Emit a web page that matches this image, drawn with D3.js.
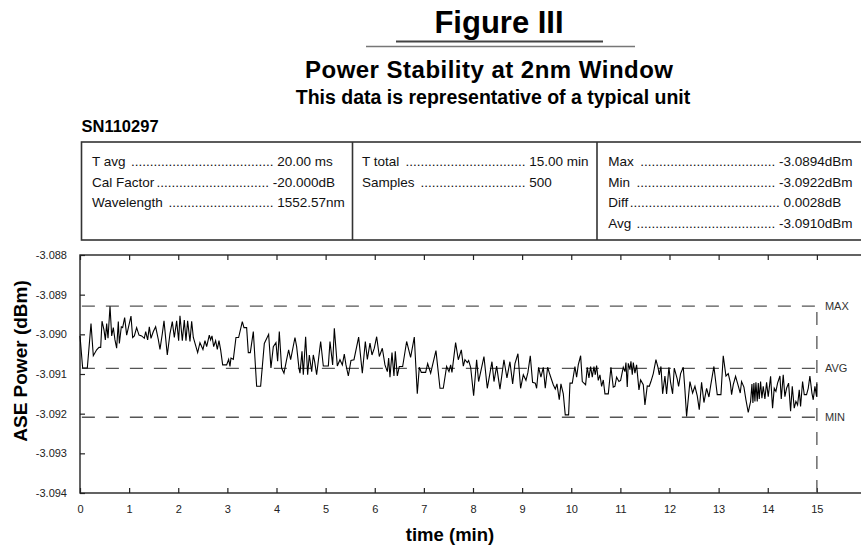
<!DOCTYPE html>
<html>
<head>
<meta charset="utf-8">
<script src="https://cdn.jsdelivr.net/npm/d3@7"></script>
<style>
  html, body { margin: 0; padding: 0; background: #fff; }
  svg { display: block; font-family: "Liberation Sans", Arial, Helvetica, sans-serif; }
</style>
</head>
<body>
<script>
// ---------------- data ----------------
const titleText = "Figure III";
const subtitleText = "Power Stability at 2nm Window";
const subtitle2Text = "This data is representative of a typical unit";
const serialText = "SN110297";

const tableCol1 = [["T avg ", "20.00 ms"], ["Cal Factor", "-20.000dB"], ["Wavelength ", "1552.57nm"]];
const tableCol2 = [["T total ", "15.00 min"], ["Samples ", "500"]];
const tableCol3 = [["Max ", "-3.0894dBm"], ["Min ", "-3.0922dBm"], ["Diff", "0.0028dB"], ["Avg ", "-3.0910dBm"]];

const xTickValues = [0,1,2,3,4,5,6,7,8,9,10,11,12,13,14,15,16];
const xTickLabels = ["0","1","2","3","4","5","6","7","8","9","10","11","12","13","14","15",""];
const yTickValues = [-3.088,-3.089,-3.090,-3.091,-3.092,-3.093,-3.094];
const yTickLabels = ["-3.088","-3.089","-3.090","-3.091","-3.092","-3.093","-3.094"];

const refLines = [["MAX", -3.08929], ["AVG", -3.09086], ["MIN", -3.09209]];
const endTime = 15;

// [time (min), ASE power (dBm)]
const samples = [
[0.000,-3.09004],[0.054,-3.09085],[0.149,-3.09085],[0.224,-3.08973],[0.271,-3.09054],[0.339,-3.09039],[0.387,-3.09033],[0.421,-3.09033],[0.448,-3.08967],[0.488,-3.08989],
[0.516,-3.09014],[0.543,-3.08973],[0.570,-3.09010],[0.611,-3.08929],[0.645,-3.09004],[0.678,-3.08983],[0.712,-3.09014],[0.746,-3.09035],[0.780,-3.08968],[0.801,-3.09023],
[0.841,-3.08981],[0.868,-3.08983],[0.909,-3.08958],[0.950,-3.09002],[1.038,-3.08954],[1.072,-3.09008],[1.106,-3.09004],[1.153,-3.08983],[1.201,-3.09002],[1.255,-3.09004],
[1.309,-3.09010],[1.337,-3.08993],[1.377,-3.09014],[1.411,-3.08981],[1.445,-3.09010],[1.493,-3.08993],[1.540,-3.08981],[1.594,-3.09013],[1.628,-3.09038],[1.676,-3.08998],
[1.710,-3.08966],[1.777,-3.09052],[1.832,-3.08998],[1.879,-3.08968],[1.920,-3.09008],[1.967,-3.08966],[2.008,-3.09016],[2.035,-3.08953],[2.083,-3.09016],[2.123,-3.08964],
[2.157,-3.09016],[2.191,-3.08966],[2.239,-3.09018],[2.273,-3.08967],[2.307,-3.09008],[2.395,-3.09046],[2.442,-3.09021],[2.503,-3.09038],[2.544,-3.09016],[2.578,-3.09031],
[2.632,-3.09002],[2.659,-3.09014],[2.687,-3.09004],[2.721,-3.09031],[2.761,-3.09016],[2.795,-3.09038],[2.829,-3.09016],[2.863,-3.09039],[2.904,-3.09077],[2.985,-3.09077],
[3.026,-3.09063],[3.053,-3.09081],[3.073,-3.09060],[3.121,-3.09063],[3.175,-3.09008],[3.229,-3.09008],[3.304,-3.08968],[3.338,-3.08983],[3.392,-3.08983],[3.426,-3.09046],
[3.467,-3.09046],[3.528,-3.08993],[3.596,-3.09131],[3.677,-3.09131],[3.752,-3.09023],[3.840,-3.09000],[3.887,-3.09085],[3.935,-3.09031],[3.989,-3.09021],[4.023,-3.09068],
[4.057,-3.08993],[4.104,-3.09085],[4.152,-3.09098],[4.206,-3.09064],[4.247,-3.09039],[4.288,-3.09064],[4.376,-3.09008],[4.410,-3.09031],[4.457,-3.09085],[4.478,-3.09098],
[4.519,-3.09043],[4.546,-3.09102],[4.593,-3.09006],[4.634,-3.09102],[4.668,-3.09052],[4.716,-3.09094],[4.749,-3.09052],[4.777,-3.09069],[4.817,-3.09102],[4.899,-3.09018],
[4.953,-3.09080],[5.055,-3.09080],[5.089,-3.09018],[5.143,-3.09077],[5.177,-3.08985],[5.238,-3.09080],[5.292,-3.09064],[5.340,-3.09077],[5.380,-3.09050],[5.414,-3.09077],
[5.462,-3.09105],[5.516,-3.09066],[5.577,-3.09064],[5.672,-3.09007],[5.747,-3.09098],[5.808,-3.09018],[5.849,-3.09063],[5.903,-3.09022],[5.944,-3.09052],[5.991,-3.09035],
[6.039,-3.09006],[6.093,-3.09056],[6.154,-3.09035],[6.208,-3.09077],[6.256,-3.09094],[6.283,-3.09060],[6.310,-3.09108],[6.351,-3.09046],[6.391,-3.09105],[6.418,-3.09043],
[6.459,-3.09105],[6.500,-3.09081],[6.568,-3.09081],[6.649,-3.09018],[6.730,-3.09058],[6.805,-3.09007],[6.866,-3.09150],[6.907,-3.09083],[6.948,-3.09096],[7.036,-3.09096],
[7.077,-3.09074],[7.138,-3.09098],[7.246,-3.09041],[7.328,-3.09136],[7.395,-3.09136],[7.463,-3.09081],[7.511,-3.09094],[7.545,-3.09077],[7.572,-3.09096],[7.646,-3.09021],
[7.701,-3.09064],[7.762,-3.09039],[7.803,-3.09080],[7.836,-3.09064],[7.884,-3.09071],[7.911,-3.09066],[7.952,-3.09083],[8.013,-3.09155],[8.074,-3.09064],[8.114,-3.09119],
[8.223,-3.09056],[8.291,-3.09136],[8.386,-3.09069],[8.427,-3.09119],[8.481,-3.09080],[8.549,-3.09138],[8.630,-3.09064],[8.691,-3.09110],[8.752,-3.09069],[8.807,-3.09125],
[8.854,-3.09074],[8.915,-3.09049],[8.969,-3.09136],[9.024,-3.09102],[9.078,-3.09116],[9.118,-3.09096],[9.166,-3.09054],[9.213,-3.09121],[9.268,-3.09123],[9.295,-3.09136],
[9.336,-3.09083],[9.383,-3.09108],[9.431,-3.09083],[9.471,-3.09136],[9.519,-3.09083],[9.566,-3.09102],[9.634,-3.09127],[9.675,-3.09138],[9.709,-3.09125],[9.756,-3.09165],
[9.790,-3.09125],[9.838,-3.09150],[9.878,-3.09203],[9.946,-3.09203],[9.974,-3.09123],[10.021,-3.09123],[10.075,-3.09081],[10.109,-3.09108],[10.143,-3.09077],[10.191,-3.09054],
[10.225,-3.09119],[10.292,-3.09127],[10.326,-3.09083],[10.360,-3.09110],[10.394,-3.09081],[10.428,-3.09108],[10.462,-3.09081],[10.489,-3.09102],[10.516,-3.09079],[10.550,-3.09116],
[10.584,-3.09102],[10.618,-3.09131],[10.652,-3.09115],[10.686,-3.09150],[10.754,-3.09150],[10.808,-3.09083],[10.855,-3.09133],[10.889,-3.09131],[10.923,-3.09108],[10.971,-3.09119],
[11.005,-3.09116],[11.059,-3.09083],[11.093,-3.09094],[11.113,-3.09071],[11.140,-3.09133],[11.161,-3.09073],[11.195,-3.09089],[11.215,-3.09068],[11.242,-3.09102],[11.263,-3.09071],
[11.296,-3.09098],[11.330,-3.09077],[11.378,-3.09140],[11.412,-3.09115],[11.466,-3.09127],[11.500,-3.09178],[11.547,-3.09130],[11.588,-3.09131],[11.622,-3.09119],[11.670,-3.09099],
[11.724,-3.09064],[11.765,-3.09083],[11.792,-3.09102],[11.826,-3.09081],[11.860,-3.09150],[11.907,-3.09105],[11.941,-3.09150],[11.988,-3.09083],[12.022,-3.09121],[12.063,-3.09150],
[12.097,-3.09085],[12.158,-3.09113],[12.185,-3.09131],[12.226,-3.09099],[12.280,-3.09083],[12.314,-3.09140],[12.348,-3.09207],[12.416,-3.09119],[12.470,-3.09148],[12.518,-3.09131],
[12.565,-3.09155],[12.606,-3.09190],[12.653,-3.09121],[12.701,-3.09172],[12.755,-3.09136],[12.803,-3.09158],[12.837,-3.09130],[12.904,-3.09081],[12.972,-3.09152],[13.047,-3.09152],
[13.094,-3.09054],[13.149,-3.09105],[13.196,-3.09099],[13.237,-3.09121],[13.264,-3.09152],[13.298,-3.09127],[13.345,-3.09106],[13.400,-3.09130],[13.440,-3.09148],[13.467,-3.09119],
[13.515,-3.09133],[13.556,-3.09165],[13.603,-3.09197],[13.651,-3.09169],[13.678,-3.09125],[13.698,-3.09173],[13.718,-3.09123],[13.739,-3.09169],[13.759,-3.09121],[13.786,-3.09169],
[13.807,-3.09123],[13.827,-3.09163],[13.854,-3.09119],[13.881,-3.09161],[13.908,-3.09131],[13.942,-3.09163],[13.976,-3.09121],[14.010,-3.09157],[14.058,-3.09106],[14.098,-3.09186],
[14.132,-3.09136],[14.166,-3.09144],[14.200,-3.09123],[14.248,-3.09105],[14.275,-3.09163],[14.315,-3.09102],[14.349,-3.09157],[14.383,-3.09136],[14.424,-3.09123],[14.465,-3.09194],
[14.499,-3.09131],[14.539,-3.09186],[14.573,-3.09169],[14.607,-3.09178],[14.641,-3.09140],[14.668,-3.09182],[14.709,-3.09119],[14.743,-3.09152],[14.790,-3.09152],[14.824,-3.09136],
[14.858,-3.09105],[14.899,-3.09148],[14.926,-3.09165],[14.960,-3.09131],[14.994,-3.09157],[15.000,-3.09121]
];

// ---------------- layout ----------------
const W = 861, H = 548;
const plot = { left: 80, right: 866, top: 255, bottom: 493 };
const svg = d3.select("body").append("svg").attr("width", W).attr("height", H);

const x = d3.scaleLinear().domain([0, 16]).range([plot.left, plot.right]);
const y = d3.scaleLinear().domain([-3.094, -3.088]).range([plot.bottom, plot.top]);

// ---------------- titles ----------------
svg.append("text").attr("x", 499).attr("y", 33).attr("text-anchor", "middle")
  .attr("font-size", 31).attr("font-weight", "bold").attr("fill", "#000").text(titleText);
svg.append("line").attr("x1", 396).attr("x2", 603).attr("y1", 41.5).attr("y2", 41.5)
  .attr("stroke", "#444").attr("stroke-width", 1.8);
svg.append("line").attr("x1", 366).attr("x2", 635).attr("y1", 46.5).attr("y2", 46.5)
  .attr("stroke", "#777").attr("stroke-width", 1.4);
svg.append("text").attr("x", 305).attr("y", 78)
  .attr("font-size", 24).attr("font-weight", "bold").attr("fill", "#000")
  .attr("textLength", 368).attr("lengthAdjust", "spacing").text(subtitleText);
svg.append("text").attr("x", 493).attr("y", 104).attr("text-anchor", "middle")
  .attr("font-size", 19.5).attr("font-weight", "bold").attr("fill", "#000").text(subtitle2Text);
svg.append("text").attr("x", 81.5).attr("y", 132).attr("font-size", 16.5)
  .attr("font-weight", "bold").attr("fill", "#000").text(serialText);

// ---------------- info table ----------------
const table = svg.append("g").attr("font-size", 13.5).attr("fill", "#111");
table.append("rect").attr("x", 81.5).attr("y", 142).attr("width", 800).attr("height", 98)
  .attr("fill", "none").attr("stroke", "#333").attr("stroke-width", 1.6);
[352.5, 597].forEach(xd => table.append("line").attr("x1", xd).attr("x2", xd)
  .attr("y1", 142).attr("y2", 240).attr("stroke", "#333").attr("stroke-width", 1.6));

const rowY = [166, 186.5, 207, 227.5];
const meas = table.append("text").attr("x", -100).attr("y", -100);
function tw(s) { meas.text(s); return meas.node().getComputedTextLength(); }
const dotW = tw("..........") / 10, minusW = tw("-"), spaceW = tw("a a") - tw("aa");

function drawCol(rows, xLabel, xValue) {
  rows.forEach(([label, value], i) => {
    const yy = rowY[i];
    const trimmed = label.trimEnd();
    table.append("text").attr("x", xLabel).attr("y", yy).text(trimmed);
    const vStart = xValue - (value.startsWith("-") ? minusW : 0);
    table.append("text").attr("x", vStart).attr("y", yy).text(value);
    const dStart = xLabel + tw(trimmed) + (label !== trimmed ? spaceW : 0);
    const dEnd = vStart - spaceW;
    const n = Math.max(0, Math.floor((dEnd - dStart) / dotW));
    table.append("text").attr("x", dEnd - n * dotW).attr("y", yy).text(".".repeat(n));
  });
}
drawCol(tableCol1, 92, 277.3);
drawCol(tableCol2, 362, 529.3);
drawCol(tableCol3, 608.3, 783.5);
meas.remove();

// ---------------- plot ----------------
const axisFont = 11;
const gx = svg.append("g").attr("transform", `translate(0,${plot.bottom})`)
  .call(d3.axisBottom(x).tickValues(xTickValues).tickSize(-5).tickPadding(12)
    .tickFormat((d, i) => xTickLabels[i]));
const gxt = svg.append("g").attr("transform", `translate(0,${plot.top})`)
  .call(d3.axisTop(x).tickValues(xTickValues).tickSize(-5).tickFormat(""));
const gy = svg.append("g").attr("transform", `translate(${plot.left},0)`)
  .call(d3.axisLeft(y).tickValues(yTickValues).tickSize(-5).tickPadding(13)
    .tickFormat((d, i) => yTickLabels[i]));
const gyr = svg.append("g").attr("transform", `translate(${plot.right},0)`)
  .call(d3.axisRight(y).tickValues(yTickValues).tickSize(-5).tickFormat(""));
[gx, gxt, gy, gyr].forEach(g => {
  g.select(".domain").remove();
  g.selectAll(".tick line").attr("stroke", "#222").attr("stroke-width", 1.2);
  g.selectAll(".tick text").attr("font-size", axisFont).attr("fill", "#222")
    .attr("font-family", "'Liberation Sans', Arial, sans-serif");
});

svg.append("rect").attr("x", plot.left).attr("y", plot.top)
  .attr("width", plot.right - plot.left).attr("height", plot.bottom - plot.top)
  .attr("fill", "none").attr("stroke", "#222").attr("stroke-width", 1.4);

// reference dashed lines
refLines.forEach(([label, v]) => {
  svg.append("line").attr("x1", x(endTime) - 2).attr("x2", x(0))
    .attr("y1", y(v)).attr("y2", y(v))
    .attr("stroke", "#555").attr("stroke-width", 1.3).attr("stroke-dasharray", "13,11");
  svg.append("text").attr("x", x(endTime) + 8).attr("y", y(v)).attr("dy", "0.35em")
    .attr("font-size", 11).attr("fill", "#333").text(label);
});
svg.append("line").attr("x1", x(endTime)).attr("x2", x(endTime))
  .attr("y1", plot.bottom).attr("y2", y(refLines[0][1]))
  .attr("stroke", "#555").attr("stroke-width", 1.3).attr("stroke-dasharray", "13,11");

// data trace
const line = d3.line().x(d => x(d[0])).y(d => y(d[1]));
svg.append("path").datum(samples).attr("d", line)
  .attr("fill", "none").attr("stroke", "#000").attr("stroke-width", 1.1)
  .attr("stroke-linejoin", "miter");

// axis titles
svg.append("text").attr("x", 450).attr("y", 541).attr("text-anchor", "middle")
  .attr("font-size", 18.5).attr("font-weight", "bold").attr("fill", "#000").text("time (min)");
svg.append("text").attr("transform", "translate(27,361) rotate(-90)")
  .attr("text-anchor", "middle").attr("font-size", 19).attr("font-weight", "bold")
  .attr("fill", "#000").text("ASE Power (dBm)");
</script>
</body>
</html>
